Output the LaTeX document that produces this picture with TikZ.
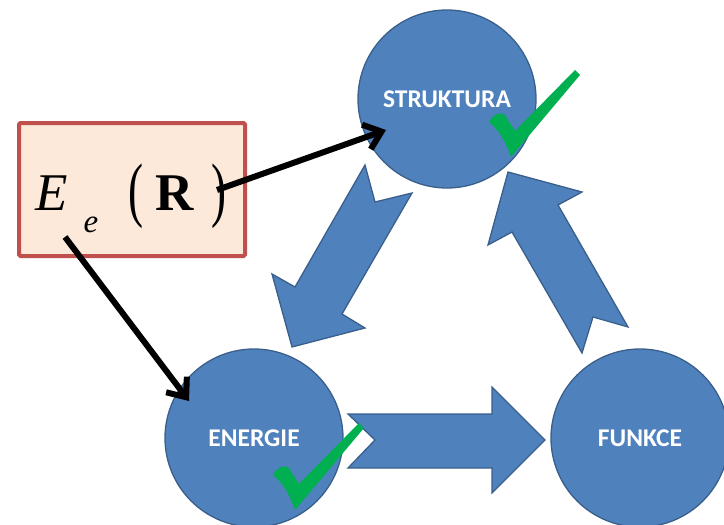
\documentclass[tikz,border=0pt]{standalone}
\usepackage{fontspec}
\setmainfont{Liberation Serif}
\newfontfamily\calib{Carlito}
\usetikzlibrary{arrows.meta}
\definecolor{bfill}{HTML}{4F81BD}
\definecolor{bdraw}{HTML}{3A5F8B}
\definecolor{gcheck}{HTML}{00B050}
\definecolor{rdraw}{HTML}{C0504D}
\definecolor{rfill}{HTML}{FDE9D9}
\tikzset{
  bigcircle/.style={circle, fill=bfill, draw=bdraw, line width=1.3pt, minimum size=178pt, inner sep=0pt,
    text=white, font=\calib\bfseries\fontsize{25.5}{25.5}\selectfont},
  blockarrow/.style={fill=bfill, draw=bdraw, line width=1.3pt, line join=miter},
  blackarrow/.style={line width=6pt, -{Straight Barb[length=16pt, width=26pt, line width=6pt]}},
  greencheck/.pic={
    \fill[gcheck] (0,0) .. controls (4,-7) and (9,-10) .. (15,-8) -- (26,9) -- (86,-52) -- (91,-47) -- (22,35)
      .. controls (17,20) and (10,8) .. (0,0) -- cycle;
  }
}
\begin{document}
\begin{tikzpicture}[x=1pt,y=-1pt]
\useasboundingbox (0,0) rectangle (724,525);
\clip (0,0) rectangle (724,525);
% circles
\node[bigcircle] (str) at (447,99) {STRUKTURA};
\node[bigcircle] (ene) at (254,438) {ENERGIE};
\node[bigcircle] (fun) at (640,438) {FUNKCE};
% block arrows
\draw[blockarrow] (365,165) -- (375,202) -- (412,193) -- (342,314) -- (365,328) -- (292,347)
  -- (272,274) -- (295,287) -- cycle;
\draw[blockarrow] (508,172) -- (582,192) -- (558,205) -- (628,327) -- (593,317) -- (582,353)
  -- (512,232) -- (488,245) -- cycle;
\draw[blockarrow] (348,414) -- (492,414) -- (492,387) -- (545,440) -- (492,493) -- (492,468)
  -- (348,468) -- (375,440) -- cycle;
% check marks
\pic at (489,122) {greencheck};
\pic at (273,475) {greencheck};
% box
\node[draw=rdraw, fill=rfill, line width=4pt, rounded corners=1.5pt, minimum width=226pt, minimum height=133pt, inner sep=0pt] (box) at (132,189.5) {};
\node[anchor=base west, inner sep=0pt] (eq) at (35,210) {%
  \fontsize{53}{53}\selectfont\itshape E\hspace{16pt}%
  \raisebox{-22pt}{\fontsize{33}{33}\selectfont e}\hspace{30pt}%
  \upshape\raisebox{-3pt}{\scalebox{0.85}[1.35]{(}}\hspace{12pt}%
  \textbf{R}\hspace{18pt}%
  \raisebox{-3pt}{\scalebox{0.85}[1.35]{)}}};
% black arrows
\coordinate (s1) at (217,190);
\coordinate (t1) at (386,130);
\coordinate (s2) at (65,237);
\coordinate (t2) at (189,401);
\draw[blackarrow] (s1) -- (t1);
\draw[blackarrow] (s2) -- (t2);
\end{tikzpicture}
\end{document}
